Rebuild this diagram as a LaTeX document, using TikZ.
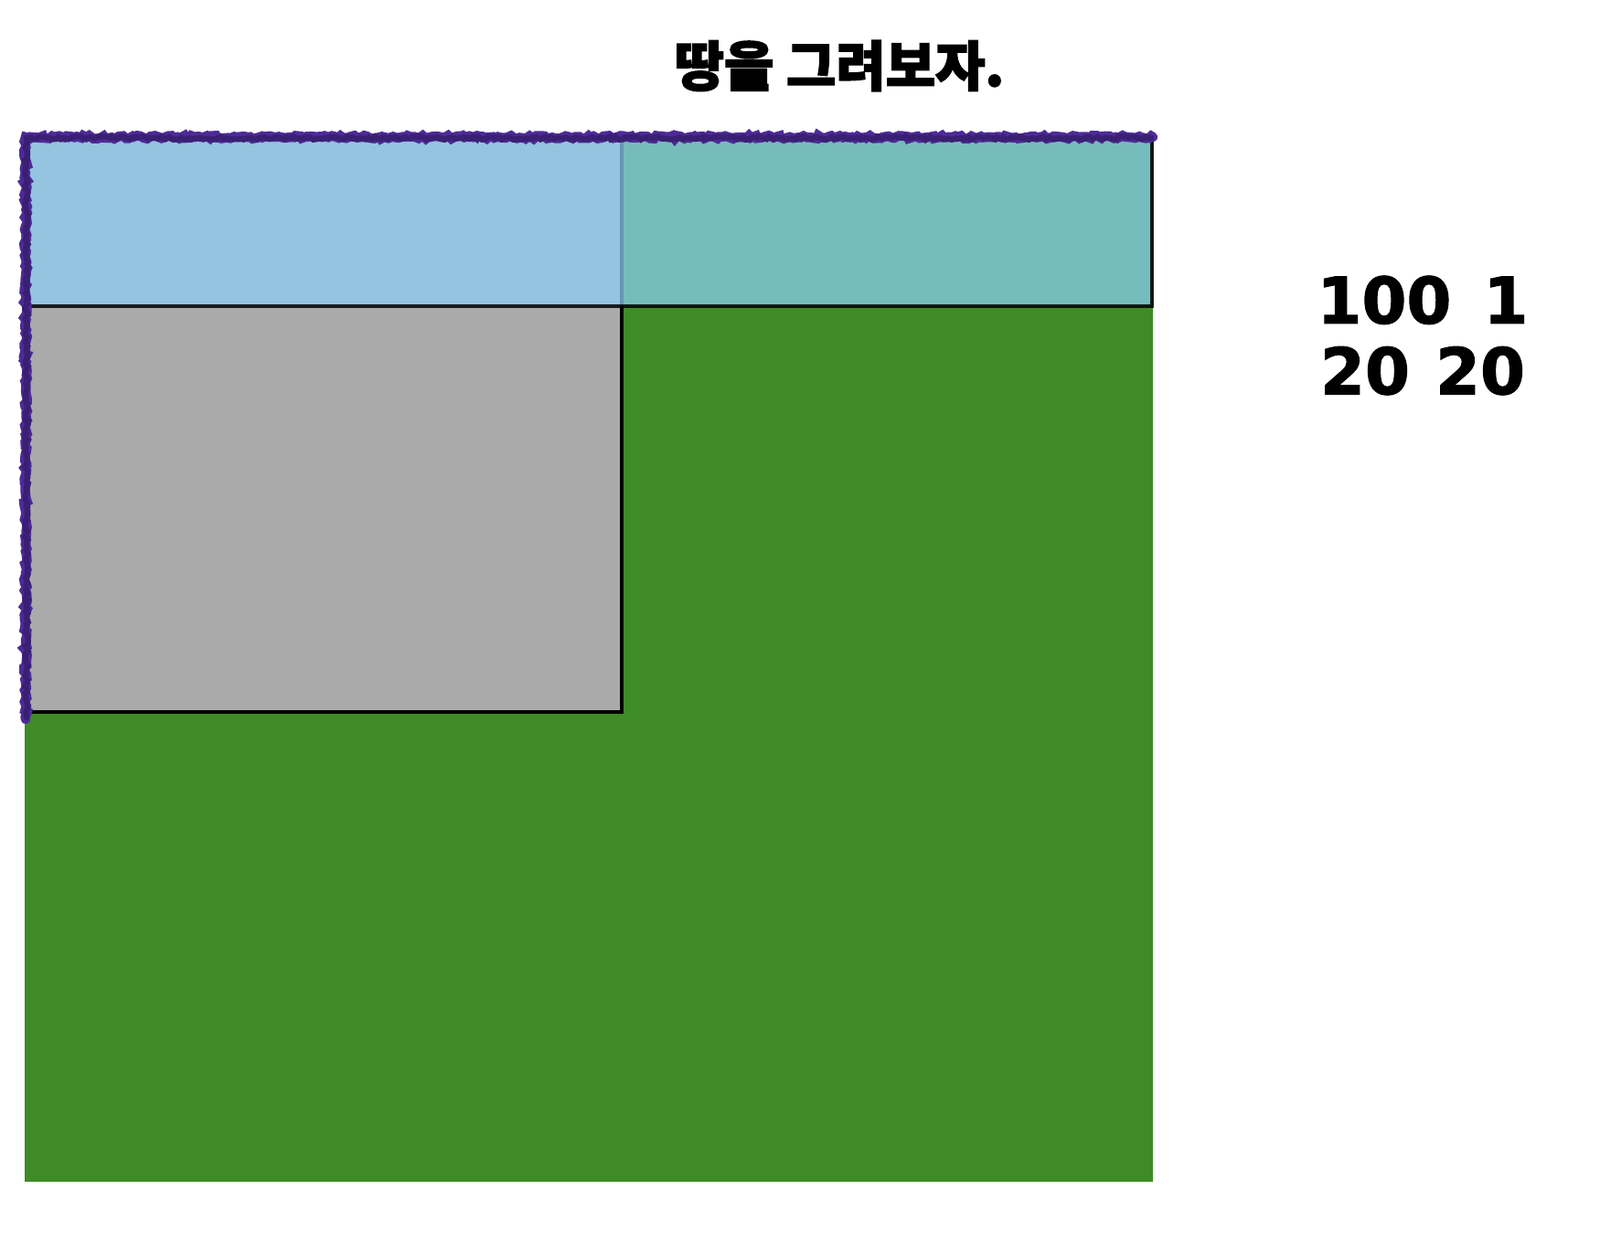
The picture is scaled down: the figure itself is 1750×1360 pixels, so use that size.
\documentclass[tikz,border=0pt]{standalone}
\usepackage{fontspec}
\newfontfamily\krfont{Noto Sans CJK KR}[BoldFeatures={FakeBold=2.5}]
\newfontfamily\numfont{DejaVu Sans}[BoldFeatures={FakeBold=1.5}]
\usetikzlibrary{decorations.pathmorphing}
\definecolor{landgreen}{RGB}{63,139,40}
\definecolor{rockgray}{RGB}{170,170,170}
\definecolor{skyblue}{RGB}{141,207,243}
\definecolor{crayon}{RGB}{78,42,152}

\begin{document}
\begin{tikzpicture}[
    x=0.01cm, y=-0.01cm,
    every node/.style={align=center},
    title/.style={font=\krfont\bfseries\fontsize{16.8}{19}\selectfont},
    numbers/.style={font=\numfont\bfseries\fontsize{20}{22}\selectfont},
    land/.style={fill=landgreen, draw=none},
    rock/.style={fill=rockgray, draw=black, line width=1.1pt},
    sky/.style={fill=skyblue, fill opacity=0.73, draw=black, draw opacity=0.85, line width=1.1pt},
    crayonline/.style={draw=crayon, line width=3pt, line cap=round,
        decorate, decoration={random steps, segment length=1pt, amplitude=0.5pt}}
]
\useasboundingbox (0,0) rectangle (1750,1360);

% 땅, 바위, 하늘
\fill[land] (27,152) rectangle (1261,1293);
\draw[rock] (27,152) rectangle (680,779);
\draw[sky] (27,152) rectangle (1260,335);

% 크레용 테두리
\draw[crayonline] (28,787) -- (28,150) -- (1261,150);
\draw[crayonline, line width=1.8pt, crayon!75!black] (29,785) -- (29,151) -- (1259,151);

% 글자
\node[title] (heading) at (918,72) {땅을 그려보자.};
\node[numbers] (sizes) at (1556,367) {100\hspace{10pt}1\\20\hspace{8pt}20};
\end{tikzpicture}
\end{document}
